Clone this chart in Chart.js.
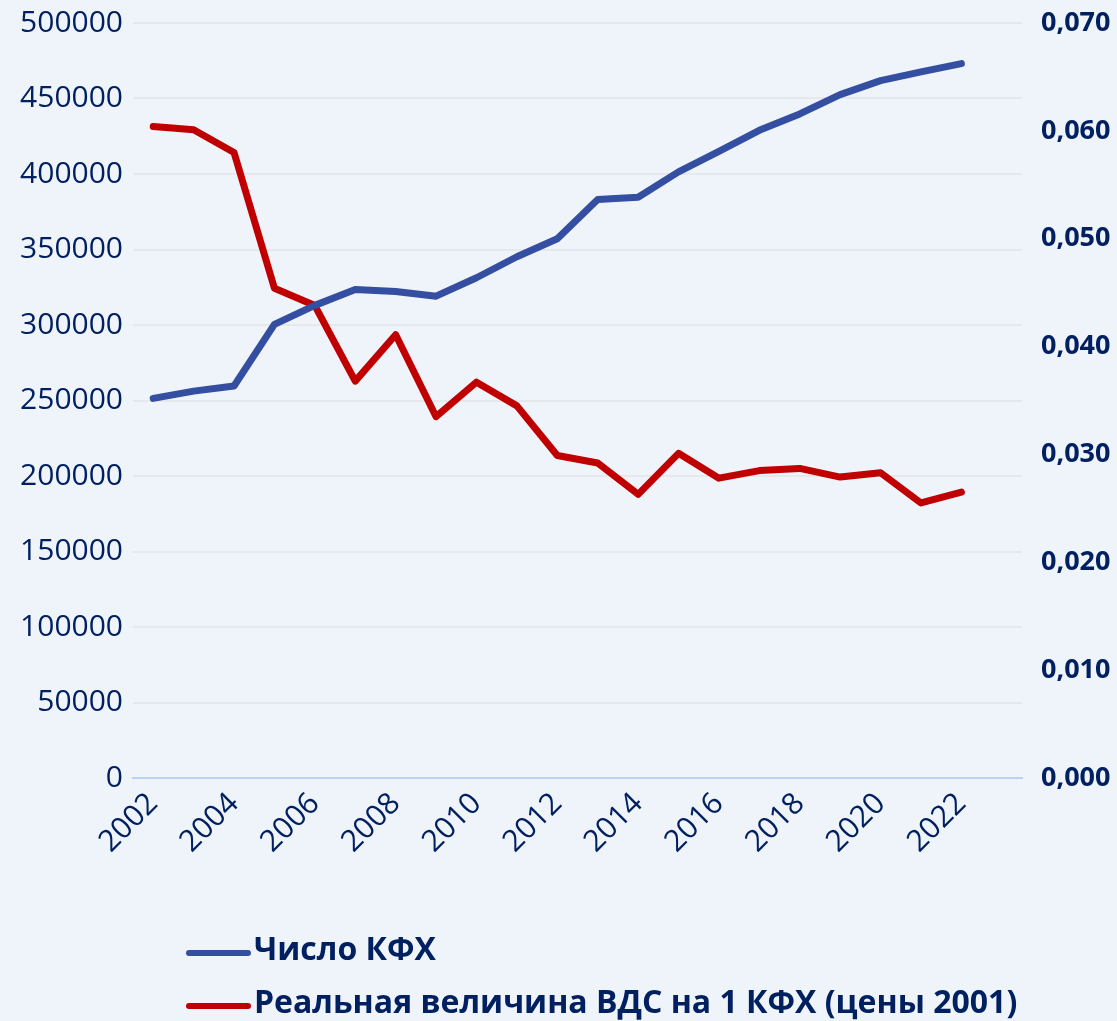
<!DOCTYPE html>
<html>
<head>
<meta charset="utf-8">
<script src="https://cdn.jsdelivr.net/npm/chart.js@4.4.1/dist/chart.umd.min.js"></script>
<style>
  html, body { margin: 0; padding: 0; background: #eff3fa; }
  #wrap { width: 1117px; height: 1021px; position: relative; }
</style>
</head>
<body>
<div id="wrap"><canvas id="c" width="1117" height="1021"></canvas></div>
<script>
const years = ['2002','2003','2004','2005','2006','2007','2008','2009','2010','2011','2012',
               '2013','2014','2015','2016','2017','2018','2019','2020','2021','2022','2023'];
const farmsCount = [251400, 256200, 259600, 300400, 313000, 323500, 322200, 319100, 331300, 345200, 357100,
                    383100, 384600, 401400, 415000, 428900, 439800, 452600, 461800, 467600, 473100, null];
const gvaPerFarm = [0.0604, 0.0601, 0.0580, 0.0454, 0.0438, 0.0368, 0.0411, 0.0335, 0.0367, 0.0345, 0.0299,
                    0.0292, 0.0263, 0.0301, 0.0278, 0.0285, 0.0287, 0.0279, 0.0283, 0.0255, 0.0265, null];
const seriesNames = ['Число КФХ', 'Реальная величина ВДС на 1 КФХ (цены 2001)'];
const seriesColors = ['#344ea1', '#c00000'];

const navy = '#002060';
const FONT = "'Open Sans', 'Noto Sans', sans-serif";

const bgPlugin = {
  id: 'bg',
  beforeDraw(chart) {
    const ctx = chart.ctx;
    ctx.save();
    ctx.fillStyle = '#eff3fa';
    ctx.fillRect(0, 0, chart.width, chart.height);
    ctx.restore();
  }
};

const legendPlugin = {
  id: 'customLegend',
  afterDraw(chart) {
    const ctx = chart.ctx;
    const rows = [951, 1004];
    chart.data.datasets.forEach((ds, i) => {
      const y = rows[i];
      ctx.save();
      ctx.strokeStyle = ds.borderColor;
      ctx.lineWidth = 6;
      ctx.lineCap = 'round';
      ctx.beginPath();
      ctx.moveTo(189, y + 2);
      ctx.lineTo(248, y + 2);
      ctx.stroke();
      ctx.fillStyle = navy;
      ctx.font = "bold 32px " + FONT;
      ctx.textBaseline = 'middle';
      ctx.textAlign = 'left';
      ctx.fillText(ds.label, 254, y);
      ctx.restore();
    });
  }
};

function zeroPad(scale) {
  scale.paddingTop = 0;
  scale.paddingBottom = 0;
  scale.paddingLeft = 0;
  scale.paddingRight = 0;
}

new Chart(document.getElementById('c'), {
  type: 'line',
  data: {
    labels: years,
    datasets: [
      {
        label: seriesNames[0],
        data: farmsCount,
        yAxisID: 'y',
        borderColor: seriesColors[0],
        backgroundColor: seriesColors[0],
        borderWidth: 7,
        pointRadius: 0,
        borderCapStyle: 'round',
        borderJoinStyle: 'round',
        tension: 0
      },
      {
        label: seriesNames[1],
        data: gvaPerFarm,
        yAxisID: 'y1',
        borderColor: seriesColors[1],
        backgroundColor: seriesColors[1],
        borderWidth: 7,
        pointRadius: 0,
        borderCapStyle: 'round',
        borderJoinStyle: 'round',
        tension: 0
      }
    ]
  },
  options: {
    responsive: false,
    animation: false,
    layout: { padding: { top: 23, left: 0, right: 0, bottom: 0 } },
    plugins: {
      legend: { display: false },
      tooltip: { enabled: false }
    },
    scales: {
      x: {
        type: 'category',
        offset: true,
        grid: { display: false, drawTicks: false },
        border: { display: true, color: '#bcd0f2', width: 2 },
        ticks: {
          autoSkip: false,
          maxRotation: 45,
          minRotation: 45,
          padding: 8,
          color: navy,
          font: { family: FONT, size: 30 },
          callback: function(val, idx) {
            const lab = this.getLabelForValue(val);
            return (idx % 2 === 0 && idx < 21) ? lab : '';
          }
        },
        afterFit(scale) { scale.height = 1021 - 778; zeroPad(scale); }
      },
      y: {
        position: 'left',
        min: 0,
        max: 500000,
        grid: { color: '#e7e8ec', lineWidth: 2, drawTicks: false },
        border: { display: false },
        ticks: {
          stepSize: 50000,
          padding: 10,
          color: navy,
          font: { family: FONT, size: 30 },
          callback: v => String(v)
        },
        afterFit(scale) { scale.width = 133; zeroPad(scale); }
      },
      y1: {
        position: 'right',
        min: 0,
        max: 0.07,
        grid: { display: false, drawTicks: false },
        border: { display: false },
        ticks: {
          stepSize: 0.01,
          padding: 19,
          color: navy,
          font: { family: FONT, size: 27, weight: 'bold' },
          callback: v => Number(v).toFixed(3).replace('.', ',')
        },
        afterFit(scale) { scale.width = 95; zeroPad(scale); }
      }
    }
  },
  plugins: [bgPlugin, legendPlugin]
});
</script>
</body>
</html>
